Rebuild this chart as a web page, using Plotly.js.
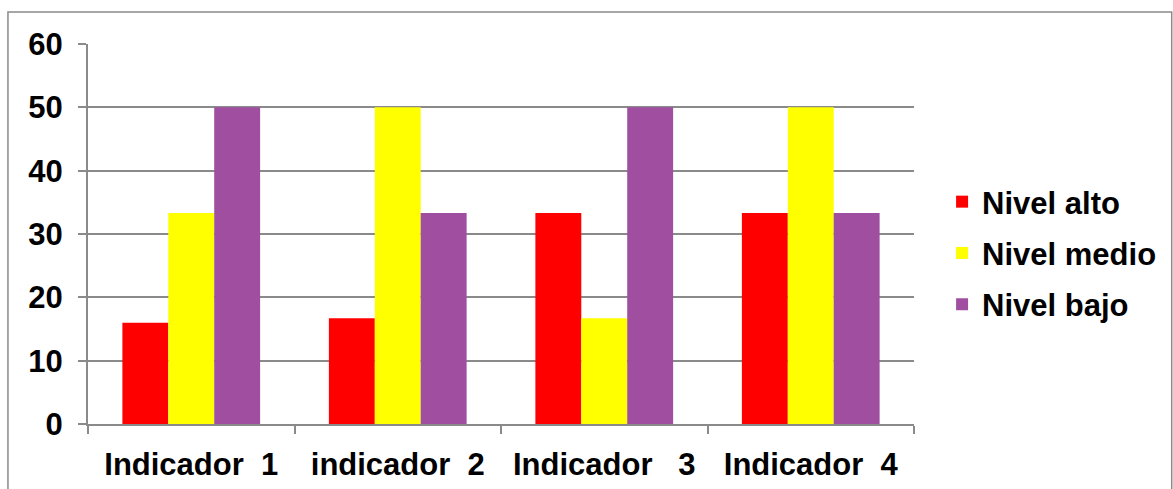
<!DOCTYPE html>
<html>
<head>
<meta charset="utf-8">
<script src="https://cdn.plot.ly/plotly-3.0.1.min.js"></script>
<style>html,body{margin:0;padding:0;background:#fff;}#chart{width:1173px;height:489px;}</style>
</head>
<body>
<div id="chart"></div>
<script>
const categories = ["Indicador\u00a0\u00a01", "indicador\u00a0\u00a02", "Indicador\u00a0\u00a0\u00a03", "Indicador\u00a0\u00a04"];
const seriesNames = ["Nivel alto", "Nivel medio", "Nivel bajo"];
const nivelAlto = [16, 16.7, 33.3, 33.3];
const nivelMedio = [33.3, 50, 16.7, 50];
const nivelBajo = [50, 33.3, 50, 33.3];
const colors = ["#FF0000", "#FFFF00", "#A04FA0"];
const yTicks = [0, 10, 20, 30, 40, 50, 60];

const values = [nivelAlto, nivelMedio, nivelBajo];
const traces = values.map((v, i) => ({
  type: "bar",
  name: seriesNames[i],
  x: categories,
  y: v,
  legendgroup: "g" + i,
  marker: {color: colors[i], line: {width: 0}},
  hoverinfo: "skip"
}));

const gray = "#8a8a8a";
const fam = "Liberation Sans, Arial, sans-serif";
const layout = {
  width: 1173, height: 489,
  margin: {l: 88, r: 259, t: 44, b: 65, pad: 0},
  paper_bgcolor: "#fff", plot_bgcolor: "#fff",
  barmode: "group", bargap: 0.333, bargroupgap: 0,
  showlegend: true,
  font: {family: fam, color: "#000"},
  legend: {
    x: 1.034, xanchor: "left", y: 0.45, yanchor: "middle",
    font: {size: 31, weight: "bold", family: fam, color: "#000"},
    tracegroupgap: 8, traceorder: "grouped", itemclick: false,
    bgcolor: "rgba(0,0,0,0)"
  },
  xaxis: {
    type: "category",
    tickson: "boundaries", ticks: "outside", ticklen: 8, tickcolor: gray, tickwidth: 2,
    showline: true, linecolor: gray, linewidth: 2,
    showgrid: false, zeroline: false,
    tickfont: {size: 31, weight: "bold", family: fam, color: "#000"},
    ticklabelstandoff: 12,
    fixedrange: true
  },
  yaxis: {
    range: [0, 60], tickvals: yTicks, ticktext: yTicks.map(String),
    ticks: "outside", ticklen: 8, tickcolor: gray, tickwidth: 2,
    showline: true, linecolor: gray, linewidth: 2,
    showgrid: true, gridcolor: gray, gridwidth: 2,
    zeroline: false,
    tickfont: {size: 31, weight: "bold", family: fam, color: "#000"},
    ticklabelstandoff: 9,
    fixedrange: true
  },
  shapes: [{
    type: "rect", xref: "paper", yref: "paper",
    x0: -0.0969, x1: 1.312, y0: -0.2, y1: 1.084,
    line: {color: gray, width: 1.5}, fillcolor: "rgba(0,0,0,0)", layer: "below"
  }]
};

Plotly.newPlot("chart", traces, layout, {displayModeBar: false, staticPlot: true});
</script>
</body>
</html>
